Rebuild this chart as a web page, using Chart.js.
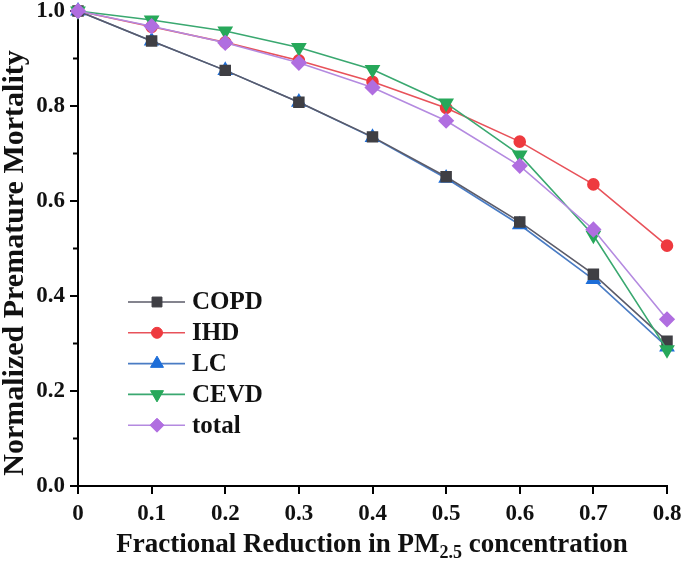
<!DOCTYPE html>
<html><head><meta charset="utf-8">
<script src="https://cdn.jsdelivr.net/npm/chart.js@4/dist/chart.umd.min.js"></script>
<style>html,body{margin:0;padding:0;background:#fff}#wrap{width:685px;height:562px;position:relative}</style>
</head><body><div id="wrap"><canvas id="c" width="685" height="562"></canvas></div>
<script>
const xValues = [0, 0.1, 0.2, 0.3, 0.4, 0.5, 0.6, 0.7, 0.8];
const seriesNames = ["COPD", "IHD", "LC", "CEVD", "total"];
const copd  = [1.0, 0.937, 0.875, 0.808, 0.735, 0.651, 0.556, 0.446, 0.305];
const ihd   = [1.0, 0.967, 0.934, 0.896, 0.851, 0.796, 0.725, 0.635, 0.506];
const lc    = [1.0, 0.937, 0.875, 0.808, 0.734, 0.648, 0.550, 0.435, 0.293];
const cevd  = [1.0, 0.981, 0.958, 0.923, 0.877, 0.806, 0.697, 0.528, 0.287];
const total = [1.0, 0.968, 0.933, 0.891, 0.839, 0.769, 0.674, 0.540, 0.351];
const yTickValues = [0, 0.2, 0.4, 0.6, 0.8, 1.0];
const yMinorValues = [0.1, 0.3, 0.5, 0.7, 0.9];

const FONT = '"Liberation Serif", "Times New Roman", serif';
Chart.defaults.font.family = FONT;
Chart.defaults.font.size = 23;
Chart.defaults.font.weight = 'bold';
Chart.defaults.color = '#111';

const styles = [
  {line:'#5b5b68', fill:'#3f3f44', ps:'rect', rot:0, r:7},
  {line:'#e8525a', fill:'#ee3a3f', ps:'circle', rot:0, r:5.5},
  {line:'#4a7cc4', fill:'#1e6ed8', ps:'triangle', rot:0, r:7.5},
  {line:'#3aa870', fill:'#27a85a', ps:'triangle', rot:180, r:7.5},
  {line:'#b48ae0', fill:'#b06ee0', ps:'rectRot', rot:0, r:7}
];
const allSeries = [copd, ihd, lc, cevd, total];
const orders = [2, 3, 4, 1, 0];

const datasets = allSeries.map((vals, i) => ({
  label: seriesNames[i],
  data: xValues.map((x, j) => ({x: x, y: vals[j]})),
  borderColor: styles[i].line,
  backgroundColor: styles[i].fill,
  pointBackgroundColor: styles[i].fill,
  pointBorderColor: styles[i].fill,
  pointStyle: styles[i].ps,
  pointRotation: styles[i].rot,
  pointRadius: styles[i].r,
  borderWidth: 1.6,
  tension: 0,
  clip: false,
  order: orders[i]
}));

const extras = {
  id: 'extras',
  afterDraw(chart) {
    const ctx = chart.ctx;
    const ys = chart.scales.y, xs = chart.scales.x;
    ctx.save();
    ctx.strokeStyle = '#000'; ctx.lineWidth = 2;
    yMinorValues.forEach(v => {
      const py = ys.getPixelForValue(v);
      ctx.beginPath(); ctx.moveTo(xs.left - 5, py); ctx.lineTo(xs.left, py); ctx.stroke();
    });
    const lx0 = 128, lx1 = 185, mx = 157, tx = 192;
    chart.data.datasets.forEach((ds, i) => {
      const y = 302 + i * 30.8;
      ctx.strokeStyle = ds.borderColor; ctx.lineWidth = 1.6;
      ctx.beginPath(); ctx.moveTo(lx0, y); ctx.lineTo(lx1, y); ctx.stroke();
      ctx.fillStyle = ds.pointBackgroundColor; ctx.strokeStyle = ds.pointBorderColor; ctx.lineWidth = 1;
      Chart.helpers.drawPoint(ctx, {pointStyle: ds.pointStyle, rotation: ds.pointRotation, radius: ds.pointRadius, borderWidth: 1}, mx, y);
      ctx.fillStyle = '#111'; ctx.font = 'bold 25px ' + FONT;
      ctx.textAlign = 'left'; ctx.textBaseline = 'middle';
      ctx.fillText(ds.label, tx, y + 1);
    });
    ctx.fillStyle = '#111';
    ctx.font = 'bold 30px ' + FONT;
    ctx.save();
    ctx.translate(23, 263);
    ctx.rotate(-Math.PI / 2);
    ctx.textAlign = 'center'; ctx.textBaseline = 'alphabetic';
    ctx.fillText('Normalized Premature Mortality', 0, 0);
    ctx.restore();
    const p1 = 'Fractional Reduction in PM', sub = '2.5', p2 = ' concentration';
    const big = 'bold 27px ' + FONT, small = 'bold 18px ' + FONT;
    ctx.font = big; const w1 = ctx.measureText(p1).width, w3 = ctx.measureText(p2).width;
    ctx.font = small; const w2 = ctx.measureText(sub).width;
    const cx = 372, by = 552;
    let x = cx - (w1 + w2 + w3) / 2;
    ctx.textAlign = 'left'; ctx.textBaseline = 'alphabetic';
    ctx.font = big; ctx.fillText(p1, x, by); x += w1;
    ctx.font = small; ctx.fillText(sub, x, by + 6); x += w2;
    ctx.font = big; ctx.fillText(p2, x, by);
    ctx.restore();
  }
};

new Chart(document.getElementById('c'), {
  type: 'line',
  data: { datasets },
  options: {
    responsive: false,
    animation: false,
    layout: { padding: { top: 11, right: 18, left: 0, bottom: 0 } },
    plugins: { legend: { display: false }, tooltip: { enabled: false } },
    scales: {
      x: {
        type: 'linear', min: 0, max: 0.8,
        afterFit(s) { s.height = 76; s.paddingLeft = 0; s.paddingRight = 0; },
        border: { display: true, color: '#000', width: 2 },
        grid: { drawOnChartArea: false, drawTicks: true, tickLength: 8, color: '#000', lineWidth: 2 },
        ticks: {
          stepSize: 0.1, color: '#111', padding: 6, maxRotation: 0, autoSkip: false,
          font: { family: FONT, size: 23, weight: 'bold' },
          callback: v => (Math.abs(v) < 1e-9 ? '0' : (Math.round(v * 10) / 10).toFixed(1))
        }
      },
      y: {
        type: 'linear', min: 0, max: 1.0,
        afterFit(s) { s.width = 78; s.paddingTop = 0; s.paddingBottom = 0; },
        border: { display: true, color: '#000', width: 2 },
        grid: { drawOnChartArea: false, drawTicks: true, tickLength: 8, color: '#000', lineWidth: 2 },
        afterBuildTicks(s) { s.ticks = yTickValues.map(v => ({ value: v })); },
        ticks: {
          color: '#111', padding: 5,
          font: { family: FONT, size: 23, weight: 'bold' },
          callback: v => Number(v).toFixed(1)
        }
      }
    }
  },
  plugins: [extras]
});
</script></body></html>
